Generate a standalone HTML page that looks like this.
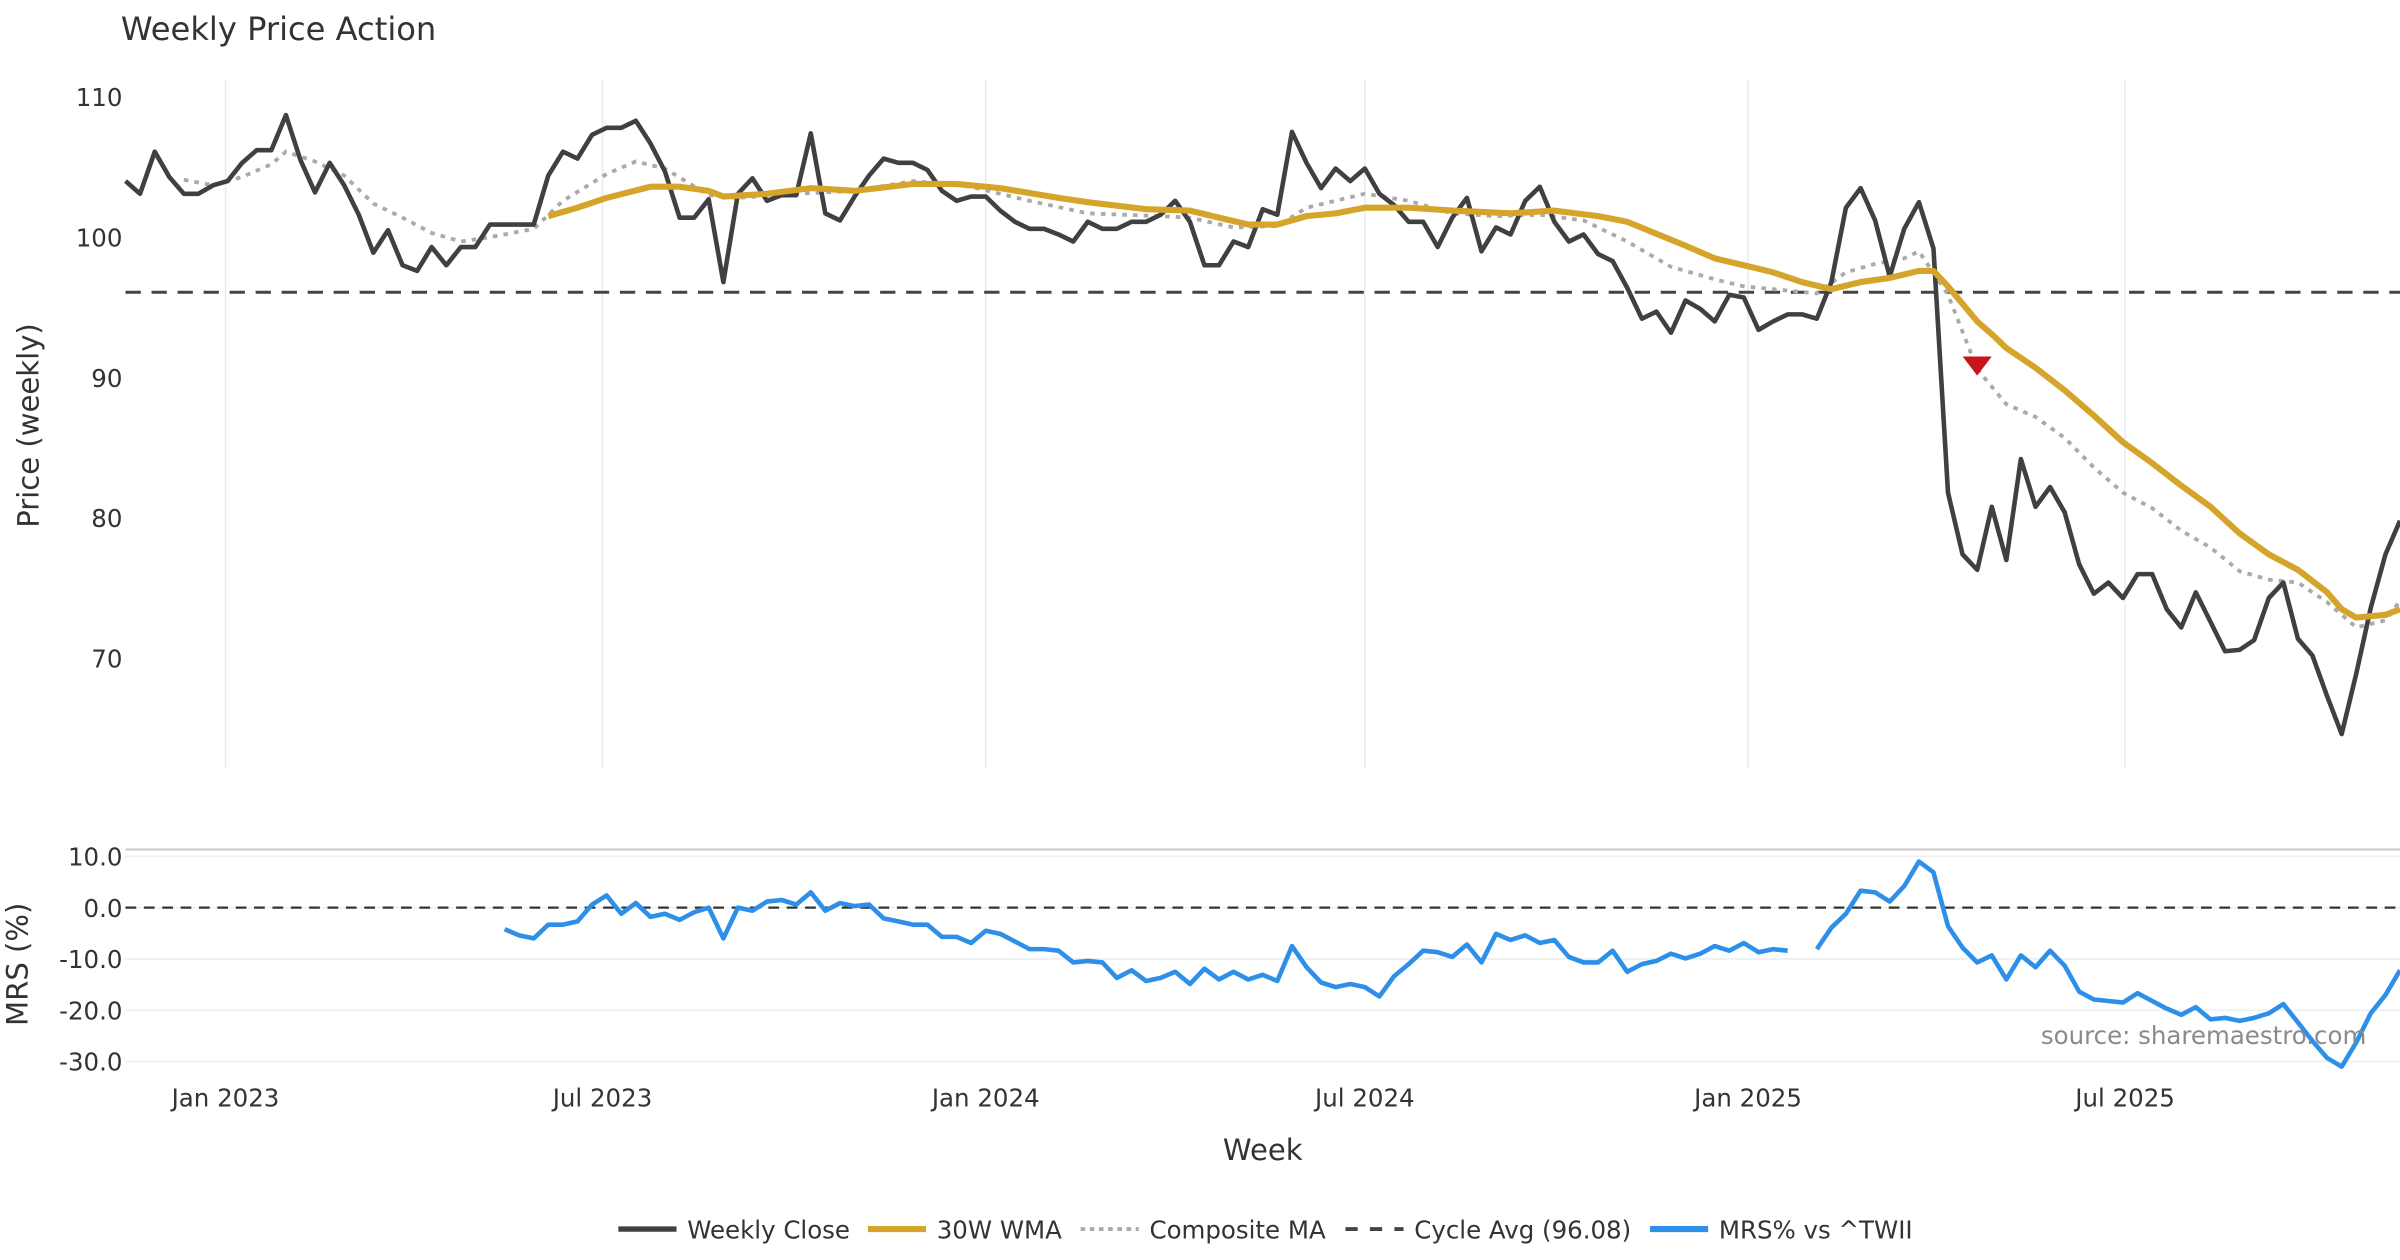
<!DOCTYPE html>
<html><head><meta charset="utf-8"><style>
html,body{margin:0;padding:0;background:#fff;}
svg{display:block;font-family:"DejaVu Sans","Liberation Sans",sans-serif;}
</style></head><body>
<svg id="chart" width="2400" height="1260" viewBox="0 0 1568 823.2" xmlns="http://www.w3.org/2000/svg">
<text x="79" y="26" font-size="21" fill="#333">Weekly Price Action</text>
<g id="topPanel"></g><g id="botPanel"></g>
</svg>
<script>
const closeVals=[104.0,103.1,106.1,104.3,103.1,103.1,103.7,104.0,105.3,106.2,106.2,108.7,105.5,103.2,105.3,103.7,101.6,98.9,100.5,98.0,97.6,99.3,98.0,99.3,99.3,100.9,100.9,100.9,100.9,104.4,106.1,105.6,107.3,107.8,107.8,108.3,106.7,104.7,101.4,101.4,102.7,96.8,103.1,104.2,102.6,103.0,103.0,107.4,101.7,101.2,102.9,104.4,105.6,105.3,105.3,104.8,103.3,102.6,102.9,102.9,101.9,101.1,100.6,100.6,100.2,99.7,101.1,100.6,100.6,101.1,101.1,101.6,102.6,101.1,98.0,98.0,99.7,99.3,102.0,101.6,107.5,105.3,103.5,104.9,104.0,104.9,103.1,102.3,101.1,101.1,99.3,101.4,102.8,99.0,100.7,100.2,102.6,103.6,101.1,99.7,100.2,98.8,98.3,96.4,94.2,94.7,93.2,95.5,94.9,94.0,95.9,95.7,93.4,94.0,94.5,94.5,94.2,96.8,102.1,103.5,101.2,97.2,100.6,102.5,99.2,81.8,77.4,76.3,80.8,77.0,84.2,80.8,82.2,80.4,76.7,74.6,75.4,74.3,76.0,76.0,73.5,72.2,74.7,72.6,70.5,70.6,71.3,74.3,75.4,71.4,70.2,67.3,64.6,68.9,73.6,77.4,79.8];
const wmaWeeks=[29,31,33,36,38,40,41,44,47,50,54,57,60,64,66,70,73,75,77,79,81,83,85,88,91,95,98,101,103,107,109,111,113,115,117,119,121,123,124,125,127,128,129,131,133,135,137,139,141,143,145,147,149,151,152,153,155,156];
const wmaVals=[101.5,102.1,102.8,103.6,103.6,103.3,102.9,103.1,103.5,103.3,103.8,103.8,103.5,102.8,102.5,102.0,101.9,101.4,100.9,100.9,101.5,101.7,102.1,102.1,101.9,101.7,101.9,101.5,101.1,99.4,98.5,98.0,97.5,96.8,96.3,96.8,97.1,97.6,97.6,96.5,94.0,93.1,92.1,90.7,89.1,87.3,85.4,83.9,82.3,80.8,78.9,77.4,76.3,74.7,73.5,72.9,73.1,73.5];
const compWeeks=[4,6,8,10,11,13,15,17,19,21,23,25,28,30,33,35,37,40,42,46,50,54,58,62,66,71,73,76,79,81,85,88,91,94,97,100,103,106,109,111,113,116,118,120,122,123,125,127,129,131,133,135,137,139,141,143,145,147,149,151,153,155,156];
const compVals=[104.1,103.7,104.3,105.2,106.1,105.4,104.4,102.4,101.4,100.3,99.7,100.0,100.6,102.6,104.5,105.4,104.9,103.0,102.8,103.1,103.3,104.0,103.6,102.6,101.7,101.5,101.4,100.7,100.8,102.1,103.1,102.6,101.7,101.5,101.6,101.2,99.7,97.9,97.0,96.5,96.3,96.0,97.5,98.1,98.5,99.0,95.9,90.6,88.1,87.2,85.7,83.6,81.8,80.7,79.1,77.9,76.2,75.6,75.4,74.0,72.2,72.7,74.1];
const mrsStart=26;
const mrsVals=[-4.2,-5.4,-6.0,-3.3,-3.3,-2.7,0.6,2.4,-1.2,0.9,-1.8,-1.2,-2.4,-0.9,0,-6.0,0,-0.6,1.2,1.5,0.6,3.0,-0.6,0.9,0.3,0.6,-2.1,-2.7,-3.3,-3.3,-5.7,-5.7,-6.9,-4.5,-5.1,-6.6,-8.1,-8.1,-8.4,-10.7,-10.4,-10.7,-13.7,-12.2,-14.3,-13.7,-12.5,-14.9,-11.9,-14.0,-12.5,-14.0,-13.1,-14.3,-7.5,-11.6,-14.6,-15.5,-14.9,-15.5,-17.3,-13.4,-11.0,-8.4,-8.7,-9.6,-7.2,-10.7,-5.1,-6.3,-5.4,-6.9,-6.3,-9.6,-10.7,-10.7,-8.4,-12.5,-11.0,-10.4,-9.0,-9.9,-9.0,-7.5,-8.4,-6.9,-8.7,-8.1,-8.4,null,-8.1,-3.9,-1.2,3.3,3.0,1.2,4.2,9.0,6.9,-3.6,-7.8,-10.7,-9.3,-14.0,-9.3,-11.6,-8.4,-11.3,-16.4,-17.9,-18.2,-18.5,-16.7,-18.2,-19.7,-20.9,-19.4,-21.8,-21.5,-22.1,-21.5,-20.6,-18.8,-22.4,-26.0,-29.3,-31.0,-26.3,-20.6,-17.0,-12.2];
const cycleAvg=96.08;
const signalWeek=127, signalPrice=91.5;
const priceTicks=[110,100,90,80,70];
const mrsTicks=[10,0,-10,-20,-30];
const dateTicks=["2023-01-01","2023-07-01","2024-01-01","2024-07-01","2025-01-01","2025-07-01"];
const dateLabels=["Jan 2023","Jul 2023","Jan 2024","Jul 2024","Jan 2025","Jul 2025"];
const startDate="2022-11-14";

const NS="http://www.w3.org/2000/svg";
const X0=82,X1=1568,pxPerWeek=(X1-X0)/156;
const t0=Date.parse(startDate);
function xW(i){return X0+i*pxPerWeek;}
function xD(d){return X0+(Date.parse(d)-t0)/864e5/7*pxPerWeek;}
function yP(v){return 155-(v-100)*9.17;}
function yM(v){return 593-v*3.35;}
function mk(tag,attrs,parent){const e=document.createElementNS(NS,tag);for(const k in attrs)e.setAttribute(k,attrs[k]);parent.appendChild(e);return e;}
const topG=document.getElementById('topPanel'),botG=document.getElementById('botPanel');
function pathFrom(xs,ys){let d='',pen=false;for(let i=0;i<xs.length;i++){if(ys[i]===null||ys[i]===undefined){pen=false;continue;}d+=(pen?'L':'M')+xs[i].toFixed(1)+','+ys[i].toFixed(1);pen=true;}return d;}

dateTicks.forEach((d,i)=>{
 const g=mk('line',{x1:xD(d),x2:xD(d),y1:52,y2:502,stroke:'#e6edf1','stroke-width':1},topG);
 
 
});
priceTicks.forEach(v=>{
 const t=mk('text',{x:80,y:yP(v)+6,'text-anchor':'end','font-size':16,fill:'#333'},topG);t.textContent=v;
 
 
});
let e=mk('text',{x:0,y:0,'font-size':19,fill:'#333','text-anchor':'middle',transform:'translate(25,278) rotate(-90)'},topG);e.textContent='Price (weekly)';


e=mk('line',{x1:X0,x2:X1,y1:yP(cycleAvg),y2:yP(cycleAvg),stroke:'#444','stroke-width':2,'stroke-dasharray':'10,7'},topG);


e=mk('path',{d:pathFrom(compWeeks.map(xW),compVals.map(yP)),fill:'none',stroke:'#aaa','stroke-width':2.5,'stroke-dasharray':'3,4'},topG);


e=mk('path',{d:pathFrom(closeVals.map((v,i)=>xW(i)),closeVals.map(yP)),fill:'none',stroke:'#404040','stroke-width':3,'stroke-linejoin':'round'},topG);


e=mk('path',{d:pathFrom(wmaWeeks.map(xW),wmaVals.map(yP)),fill:'none',stroke:'#D4A52A','stroke-width':4,'stroke-linejoin':'round'},topG);


const sx=xW(signalWeek),sy=yP(signalPrice);
e=mk('polygon',{points:`${sx-9.5},${sy} ${sx+9.5},${sy} ${sx},${sy+12.5}`,fill:'#c8141c'},topG);



e=mk('line',{x1:X0,x2:X1,y1:555,y2:555,stroke:'#ccc','stroke-width':1.5},botG);


mrsTicks.forEach(v=>{
 const g=mk('line',{x1:X0,x2:X1,y1:yM(v),y2:yM(v),stroke:'#eceff3','stroke-width':1},botG);
 
 
 const t=mk('text',{x:80,y:yM(v)+6,'text-anchor':'end','font-size':16,fill:'#333'},botG);t.textContent=v.toFixed(1);
 
 
});
e=mk('text',{x:0,y:0,'font-size':19,fill:'#333','text-anchor':'middle',transform:'translate(18,630) rotate(-90)'},botG);e.textContent='MRS (%)';


e=mk('line',{x1:X0,x2:X1,y1:yM(0),y2:yM(0),stroke:'#333','stroke-width':1.5,'stroke-dasharray':'7,5'},botG);


e=mk('path',{d:pathFrom(mrsVals.map((v,i)=>xW(i+mrsStart)),mrsVals.map(v=>v===null?null:yM(v))),fill:'none',stroke:'#2E8FE8','stroke-width':3,'stroke-linejoin':'round'},botG);


e=mk('text',{x:1546,y:682,'text-anchor':'end','font-size':16,fill:'#8a8a8a'},botG);e.textContent='source: sharemaestro.com';


dateLabels.forEach((l,i)=>{
 const t=mk('text',{x:xD(dateTicks[i]),y:723,'text-anchor':'middle','font-size':16,fill:'#333'},botG);t.textContent=l;
 
 
});
e=mk('text',{x:825,y:758,'text-anchor':'middle','font-size':19,fill:'#333'},botG);e.textContent='Week';



const legNames=['Weekly Close','30W WMA','Composite MA','Cycle Avg (96.08)','MRS% vs ^TWII'];
const legX=[404,567,706,879,1078];
const legStyles=[{stroke:'#404040','stroke-width':3.5},{stroke:'#D4A52A','stroke-width':4},{stroke:'#aaa','stroke-width':2.5,'stroke-dasharray':'3,3'},{stroke:'#444','stroke-width':2.5,'stroke-dasharray':'8,8'},{stroke:'#2E8FE8','stroke-width':4}];
legNames.forEach((n,i)=>{
 const g=mk('g',{},botG);
 
 
 const s=Object.assign({x1:legX[i],x2:legX[i]+38,y1:803,y2:803},legStyles[i]);
 mk('line',s,g);
 const t=mk('text',{x:legX[i]+45,y:809,'font-size':16,fill:'#333'},g);t.textContent=n;
});
</script>
</body></html>
